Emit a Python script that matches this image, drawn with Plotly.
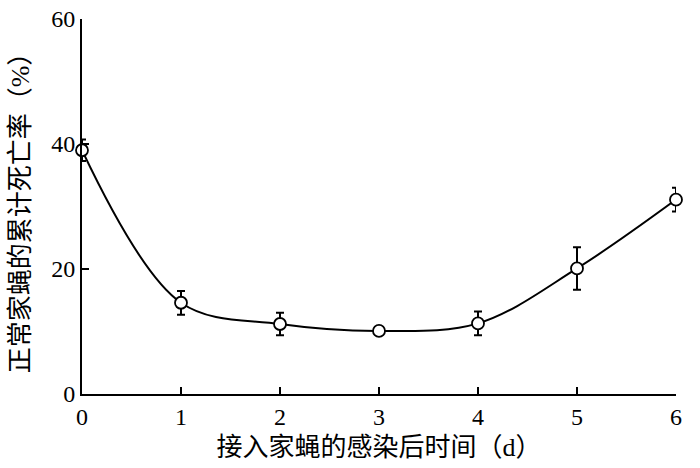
import plotly.graph_objects as go

days = [0, 1, 2, 3, 4, 5, 6]
mortality = [39.0, 14.6, 11.2, 10.1, 11.3, 20.1, 31.1]
mortality_err = [1.7, 1.9, 1.8, 0.4, 1.9, 3.4, 1.9]
y_ticks = [0, 20, 40, 60]

font_family = "Liberation Serif, Noto Sans CJK SC, serif"

fig = go.Figure()

fig.add_trace(go.Scatter(
    x=days,
    y=mortality,
    mode='lines+markers',
    line=dict(color='black', width=2, shape='spline', smoothing=1.0),
    marker=dict(size=12, color='white', line=dict(color='black', width=1.8)),
    error_y=dict(type='data', array=mortality_err, visible=True,
                 color='black', thickness=2, width=4),
    cliponaxis=False,
    showlegend=False,
))

fig.update_xaxes(
    range=[0, 6],
    tickvals=days,
    ticks='inside',
    ticklen=7,
    tickwidth=2,
    tickcolor='black',
    showline=True,
    linecolor='black',
    linewidth=2,
    showgrid=False,
    zeroline=False,
    automargin=False,
    ticklabeloverflow='allow',
    tickfont=dict(size=24, color='black', family=font_family),
    title=dict(text='接入家蝇的感染后时间（d）', standoff=9,
               font=dict(size=26, color='black', family=font_family)),
)

fig.update_yaxes(
    range=[0, 60],
    tickvals=y_ticks,
    ticks='inside',
    ticklen=7,
    tickwidth=2,
    tickcolor='black',
    showline=True,
    linecolor='black',
    linewidth=2,
    showgrid=False,
    zeroline=False,
    automargin=False,
    ticklabeloverflow='allow',
    tickfont=dict(size=24, color='black', family=font_family),
    title=dict(text='正常家蝇的累计死亡率（%）', standoff=14,
               font=dict(size=26, color='black', family=font_family)),
)

fig.update_layout(
    width=700,
    height=468,
    margin=dict(l=82, r=24, t=19, b=74),
    plot_bgcolor='white',
    paper_bgcolor='white',
)

# drop the default 8px body margin so the figure fills the window
fig.write_html("out.html", config={'displayModeBar': False},
               post_script="document.body.style.margin = '0';")
